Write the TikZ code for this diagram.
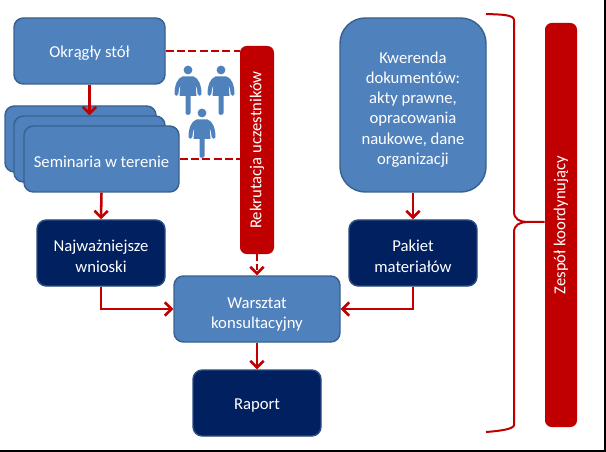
\documentclass[tikz,border=0pt]{standalone}
\usepackage{fontspec}
\setmainfont{Carlito}
\usetikzlibrary{arrows.meta,calc}
\definecolor{mblue}{HTML}{4F81BD}
\definecolor{bblue}{HTML}{3A6190}
\definecolor{dblue}{HTML}{002060}
\definecolor{dbord}{HTML}{2A4B80}
\definecolor{mred}{HTML}{C00000}
\tikzset{
  x=0.75pt,y=-0.75pt,
  boxbase/.style={rounded corners=#1,line width=1.1pt,inner sep=0pt,align=center,text=white,font=\fontsize{12.5}{15.1}\selectfont,execute at begin node={\rule{0pt}{12.5pt}}},
  lightbox/.style={boxbase=7pt,fill=mblue,draw=bblue},
  darkbox/.style={boxbase=7pt,fill=dblue,draw=dbord},
  redbar/.style={rounded corners=5pt,fill=mred,draw=none,inner sep=0pt,text=white,align=center,font=\fontsize{12.5}{15}\selectfont},
  conn/.style={draw=mred,line width=1.9pt,-{Straight Barb[length=5pt,width=10pt,line width=1.9pt]}},
  dashconn/.style={draw=mred,line width=1.9pt,dash pattern=on 6pt off 2.5pt},
  person/.pic={
    \fill[mblue] (0,0) circle[radius=4.4];
    \fill[mblue] (-5.5,6.5) -- (5.5,6.5) .. controls (10.5,8) and (13.5,15) .. (13.5,24)
      .. controls (13.5,26.5) and (10,26.5) .. (9.6,24) .. controls (9.3,20) and (8.8,17) .. (7.6,15)
      -- (8.5,26) -- (2.5,26) -- (2.5,43) .. controls (2,45.5) and (-2,45.5) .. (-2.5,43) -- (-2.5,26) -- (-8.5,26) -- (-7.6,15)
      .. controls (-8.8,17) and (-9.3,20) .. (-9.6,24) .. controls (-10,26.5) and (-13.5,26.5) .. (-13.5,24)
      .. controls (-13.5,15) and (-10.5,8) .. (-5.5,6.5) -- cycle;
  }
}
\begin{document}
\begin{tikzpicture}
\useasboundingbox (0,0) rectangle (606,452);
\fill[black] (0,0) rectangle (606,452);
\fill[white] (0,0) rectangle (604,450);
% stacked seminar boxes
\node[lightbox,minimum width=113.25pt,minimum height=49.5pt] (s1) at (80.5,139) {};
\node[lightbox,minimum width=113.25pt,minimum height=49.5pt] (s2) at (89.5,149) {};
\node[lightbox,minimum width=116.25pt,minimum height=49.5pt] (s3) at (101.5,159) {Seminaria w terenie};
\node[lightbox,minimum width=113.25pt,minimum height=49.5pt] (okr) at (89.5,51) {Okrągły stół};
\node[darkbox,minimum width=96pt,minimum height=49.5pt] (naj) at (101,253) {\rule{0pt}{13.5pt}Najważniejsze\\wnioski};
\node[lightbox,minimum width=124.5pt,minimum height=49.5pt] (war) at (257,309) {\rule{0pt}{17pt}Warsztat\\konsultacyjny};
\node[darkbox,minimum width=96pt,minimum height=49.5pt] (rap) at (257,403) {Raport};
\node[boxbase=19pt,fill=mblue,draw=bblue,minimum width=109.5pt,minimum height=130.5pt] (kwe) at (413,105) {\rule{0pt}{15.5pt}Kwerenda\\dokumentów:\\akty prawne,\\opracowania\\naukowe, dane\\organizacji};
\node[darkbox,minimum width=96pt,minimum height=49.5pt] (pak) at (413,253) {\rule{0pt}{13.5pt}Pakiet\\materiałów};
\node[redbar,minimum width=25.5pt,minimum height=156pt] (rek) at (257,150) {\rotatebox{90}{Rekrutacja uczestników}};
\node[redbar,minimum width=24pt,minimum height=303pt] (zes) at (561,225) {\rotatebox{90}{Zespół koordynujący}};
% people
\pic at (188,70) {person};
\pic at (221,70) {person};
\pic at (202,113) {person};
% connectors
\draw[conn] (okr.south) -- (s2.north);
\draw[conn] (s3.south) -- (naj.north);
\draw[conn] (naj.south) |- (war.west);
\draw[conn] (pak.south) |- (war.east);
\draw[conn] (kwe.south) -- (pak.north);
\draw[conn] (war.south) -- (rap.north);
\draw[dashconn] (okr.east) -- (okr.east -| rek.west);
\draw[dashconn] (s3.east) -- (s3.east -| rek.west);
\draw[conn,dash pattern=on 5pt off 2pt] (rek.south) -- (war.north);
% brace
\coordinate (bt) at (486,14);
\coordinate (bb) at (486,432);
\coordinate (bm) at (zes.west |- 0,222);
\draw[mred,line width=1.5pt] (bt) .. controls (500,14.5) and (514,14.5) .. (514,20) -- (514,212)
  .. controls (514,219) and (520,222) .. (527,222) -- (bm) -- (527,222)
  .. controls (520,222) and (514,225) .. (514,232) -- (514,425)
  .. controls (514,429) and (500,431) .. (bb);
\end{tikzpicture}
\end{document}
